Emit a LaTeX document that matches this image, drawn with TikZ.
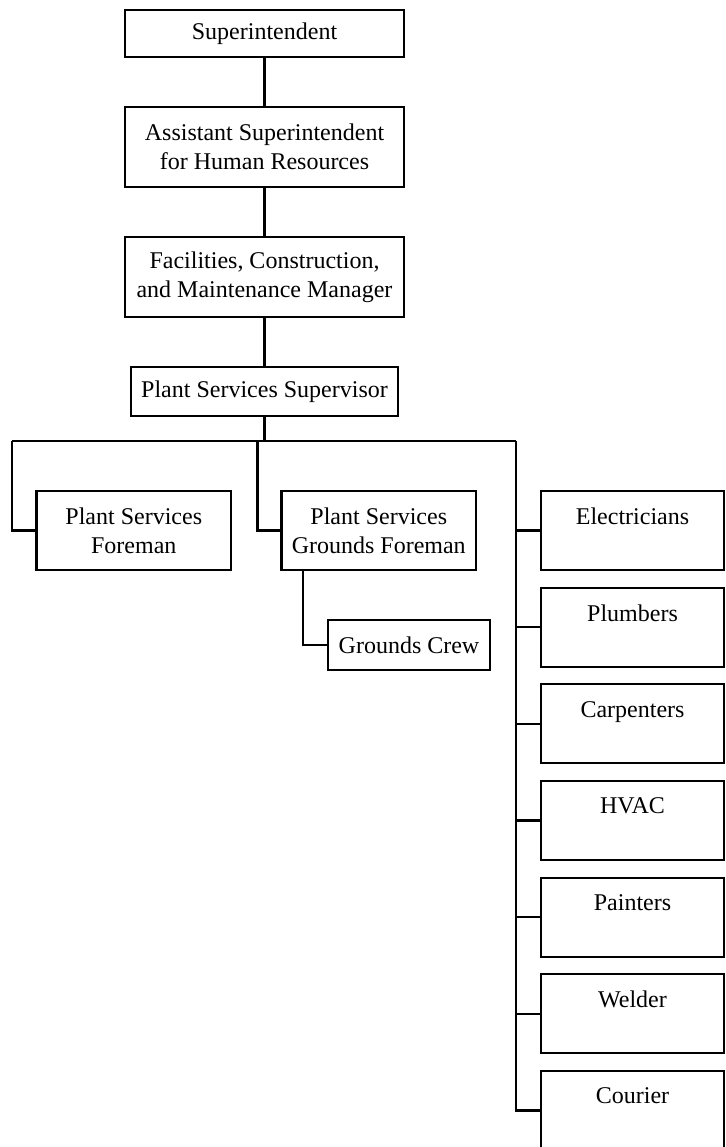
\documentclass[tikz,border=0pt]{standalone}
\usepackage{fontspec}
\setmainfont{Liberation Serif}
\begin{document}
\begin{tikzpicture}[x=1pt,y=-1pt,
  box/.style={draw,line width=2.3pt,rectangle,inner sep=0pt,align=center,
              font=\fontsize{24}{29}\selectfont},
  wide/.style={box,minimum width=279pt,minimum height=80pt},
  trade/.style={box,minimum width=183pt,minimum height=79pt},
  link/.style={line width=2.3pt}]
\useasboundingbox (0,0) rectangle (725,1147);
\clip (0,0) rectangle (725,1147);

% management chain
\node[box,minimum width=279pt,minimum height=47pt] (sup) at (264.5,33.5) {Superintendent};
\node[wide] (ash) at (264.5,147) {Assistant Superintendent\\for Human Resources};
\node[wide] (fcm) at (264.5,277) {Facilities, Construction,\\and Maintenance Manager};
\node[box,minimum width=267pt,minimum height=49pt] (pss) at (264.5,391.5) {Plant Services Supervisor};

% foremen
\node[box,minimum width=194.5pt,minimum height=79pt] (psf) at (133.75,530.5) {Plant Services\\Foreman};
\node[box,minimum width=194.5pt,minimum height=79pt] (pgf) at (378.75,530.5) {Plant Services\\Grounds Foreman};
\node[box,minimum width=162pt,minimum height=50pt] (gc) at (409,645) {Grounds Crew};

% trades
\node[trade] (ele) at (632.5,530.5) {Electricians\\\mbox{}};
\node[trade] (plu) at (632.5,627.2) {Plumbers\\\mbox{}};
\node[trade] (car) at (632.5,723.8) {Carpenters\\\mbox{}};
\node[trade] (hva) at (632.5,820.5) {HVAC\\\mbox{}};
\node[trade] (pai) at (632.5,917.2) {Painters\\\mbox{}};
\node[trade] (wel) at (632.5,1013.8) {Welder\\\mbox{}};
\node[trade] (cou) at (632.5,1110.5) {Courier\\\mbox{}};

% bus points
\coordinate (bl) at (12,441);
\coordinate (bm) at (257.5,441);
\coordinate (br) at (516,441);

% connectors
\draw[link] (sup.south) -- (ash.north);
\draw[link] (ash.south) -- (fcm.north);
\draw[link] (fcm.south) -- (pss.north);
\draw[link] (pss.south) -- (pss.south |- br);
\draw[link] (bl) -- (br);
\draw[link] (psf.west) -| (bl);
\draw[link] (pgf.west) -| (bm);
\draw[link] ([xshift=22.5pt]pgf.south west) |- (gc.west);
\draw[link] (br) |- (cou.west);
\foreach \t in {ele,plu,car,hva,pai,wel}
  \draw[link] (\t.west) -- (\t.west -| br);
\end{tikzpicture}
\end{document}
